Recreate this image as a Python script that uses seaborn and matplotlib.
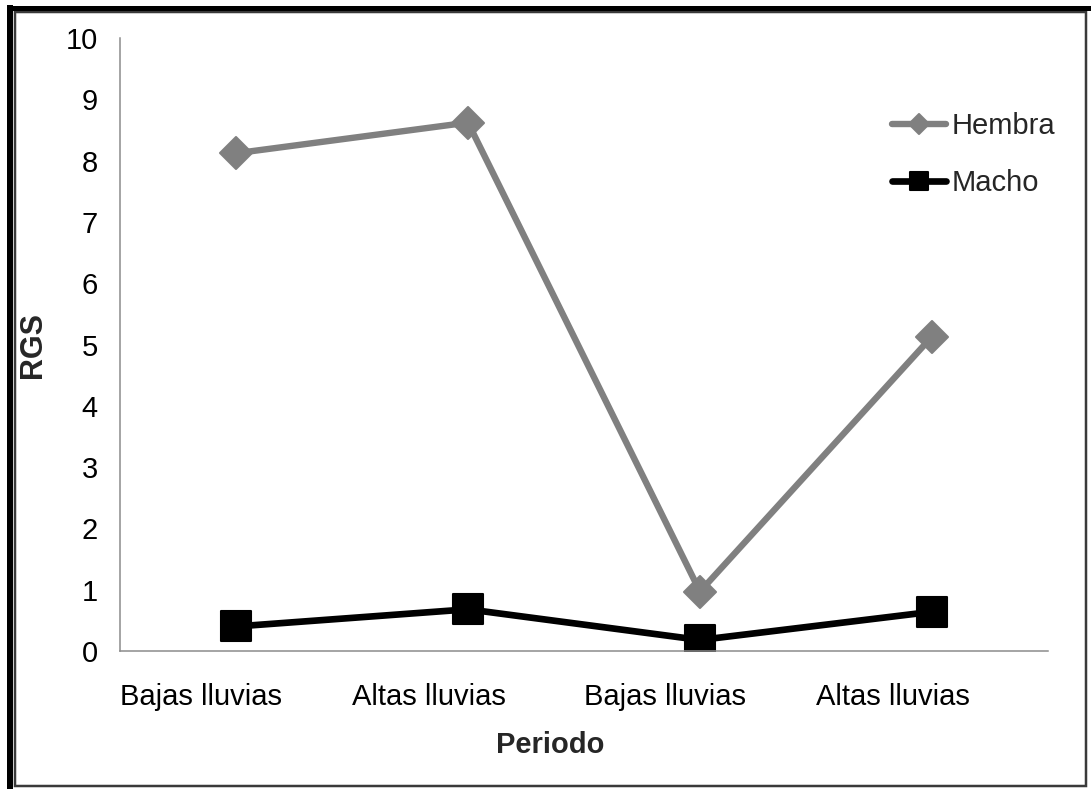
import matplotlib
matplotlib.use("Agg")
import matplotlib.pyplot as plt
from matplotlib.lines import Line2D
from matplotlib.patches import Rectangle
from matplotlib.markers import MarkerStyle
import seaborn as sns
import pandas as pd

# Gonadosomatic index (RGS) by sampling period and sex
periodos = ["Bajas lluvias", "Altas lluvias", "Bajas lluvias", "Altas lluvias"]
hembra = [8.12, 8.62, 0.97, 5.13]
macho = [0.40, 0.68, 0.18, 0.64]
yticks = list(range(0, 11))

df = pd.DataFrame({
    "pos": list(range(len(periodos))) * 2,
    "RGS": hembra + macho,
    "Sexo": ["Hembra"] * len(hembra) + ["Macho"] * len(macho),
})

sns.set_style("white")
plt.rcParams["font.family"] = ["Liberation Sans", "DejaVu Sans"]
FS = 21

W, H = 1091, 789
fig = plt.figure(figsize=(W / 100, H / 100), dpi=100)
ax = fig.add_axes([120 / W, 1 - 651 / H, 928 / W, 613 / H])

sns.lineplot(data=df[df.Sexo == "Hembra"], x="pos", y="RGS", ax=ax,
             color="#808080", linewidth=4.6,
             marker=MarkerStyle("D", joinstyle="round"), markersize=16.5,
             markeredgecolor="#808080", markeredgewidth=1.5,
             solid_joinstyle="round", legend=False)
sns.lineplot(data=df[df.Sexo == "Macho"], x="pos", y="RGS", ax=ax,
             color="black", linewidth=4.8,
             marker=MarkerStyle("s", joinstyle="round"), markersize=21,
             markeredgecolor="black", markeredgewidth=1.5,
             solid_joinstyle="round", legend=False)
for ln in ax.lines:
    ln.set_markeredgewidth(1.5)

ax.set_xlim(-0.5, len(periodos) - 0.5)
ax.set_ylim(0, 10)
ax.set_yticks(yticks)

bounds = [i - 0.5 for i in range(len(periodos) + 1)]
ax.set_xticks(bounds)
ax.set_xticklabels(periodos + [""], ha="left")

spine_c = "#8c8c8c"
for s in ["top", "right"]:
    ax.spines[s].set_visible(False)
for s in ["left", "bottom"]:
    ax.spines[s].set_color(spine_c)
    ax.spines[s].set_linewidth(1.1)
ax.tick_params(axis="both", which="major", direction="out", length=6,
               width=1.1, color=spine_c, labelsize=FS, labelcolor="black")
ax.tick_params(axis="y", pad=10)
ax.tick_params(axis="x", pad=17)

ax.set_xlabel("Periodo", fontsize=FS, fontweight="bold")
ax.xaxis.set_label_coords((550 - 120) / 928, (651 - 745) / 613)
ax.xaxis.label.set_verticalalignment("center")
ax.set_ylabel("RGS", fontsize=22, fontweight="bold")
ax.yaxis.set_label_coords((33 - 120) / 928, 0.5)
ax.yaxis.label.set_verticalalignment("center")

h1, h2 = ax.lines[0], ax.lines[1]
leg = ax.legend([h1, h2], ["Hembra", "Macho"], loc="upper left",
                bbox_to_anchor=(892 / W, 1 - 112 / H),
                bbox_transform=fig.transFigure, frameon=False, fontsize=FS,
                handlelength=1.85, handletextpad=0.2, labelspacing=1.0,
                borderpad=0, borderaxespad=0, markerscale=0.62)

# Page frame: heavy dark edge on top/left, thin box inside
def px_line(x0, y0, x1, y1, lw_px, color):
    fig.add_artist(Line2D([x0 / W, x1 / W], [1 - y0 / H, 1 - y1 / H],
                          transform=fig.transFigure, color=color,
                          linewidth=lw_px * 0.72, solid_capstyle="butt"))

px_line(10, 5, 10, H, 6, "black")
px_line(7, 7.5, W, 7.5, 5, "black")
fig.add_artist(Rectangle((14.5 / W, 1 - 786 / H), (1086 - 14.5) / W, (786 - 12) / H,
                         transform=fig.transFigure, fill=False,
                         edgecolor="#3a3a3a", linewidth=2.5 * 0.72))

fig.savefig("out.png", dpi=100)
